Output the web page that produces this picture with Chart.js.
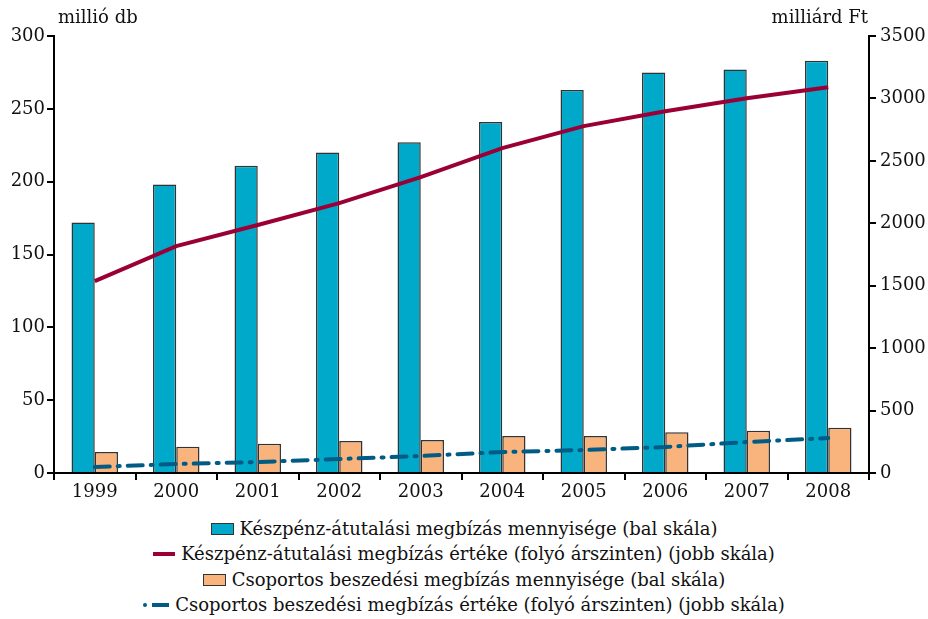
<!DOCTYPE html>
<html>
<head>
<meta charset="utf-8">
<script src="https://cdn.jsdelivr.net/npm/chart.js@4.4.0/dist/chart.umd.min.js"></script>
<style>
  html, body { margin: 0; padding: 0; background: #fff; }
  body { width: 928px; height: 619px; position: relative; overflow: hidden; font-family: 'DejaVu Serif', serif; }
  #wrap { position: absolute; left: 0; top: 0; width: 928px; height: 505px; }
  #legend { position: absolute; left: 0; top: 516px; width: 928px; text-align: center; font-size: 18px; color: #111; line-height: 25.3px; }
  .row { white-space: nowrap; }
  .sw { display: inline-block; vertical-align: middle; margin-right: 6px; position: relative; top: -1px; }
  .box { width: 21px; height: 10px; border: 1.5px solid #333; }
  .ln { width: 22px; height: 4px; }
</style>
</head>
<body>
<div id="wrap"><canvas id="chart" width="928" height="505"></canvas></div>
<div id="legend"></div>
<script>
const years = ['1999', '2000', '2001', '2002', '2003', '2004', '2005', '2006', '2007', '2008'];
const kesz_db = [172, 198, 211, 220, 227, 241, 263, 275, 277, 283];
const kesz_ft = [1537, 1817, 1986, 2162, 2370, 2602, 2778, 2898, 3002, 3090];
const csop_db = [14.4, 18, 20, 22, 22.6, 25.4, 25.4, 28, 29, 31];
const csop_ft = [48, 72, 88, 112, 136, 168, 184, 208, 248, 280];

const labels = [
    'Készpénz-átutalási megbízás mennyisége (bal skála)',
    'Készpénz-átutalási megbízás értéke (folyó árszinten) (jobb skála)',
    'Csoportos beszedési megbízás mennyisége (bal skála)',
    'Csoportos beszedési megbízás értéke (folyó árszinten) (jobb skála)'
];

const fam = "'DejaVu Serif', serif";
const font = { family: fam, size: 18 };

// axis unit captions above the two y axes
const unitTitles = {
    id: 'unitTitles',
    afterDraw(chart) {
        const c = chart.ctx;
        const a = chart.chartArea;
        c.save();
        c.fillStyle = '#111';
        c.font = '18px ' + fam;
        c.textBaseline = 'alphabetic';
        c.textAlign = 'left';
        c.fillText('millió db', a.left + 4, 23);
        c.textAlign = 'right';
        c.fillText('milliárd Ft', a.right - 1, 23);
        c.restore();
    }
};

const axisGrid = { display: true, drawOnChartArea: false, drawTicks: true, tickLength: 7, color: '#000', lineWidth: 2 };
const plain = v => String(v);

new Chart(document.getElementById('chart'), {
    data: {
        labels: years,
        datasets: [
            {
                type: 'line', label: labels[1], data: kesz_ft, yAxisID: 'y2',
                borderColor: '#9A0036', borderWidth: 4, pointRadius: 0, tension: 0, order: 0
            },
            {
                type: 'line', label: labels[3], data: csop_ft, yAxisID: 'y2',
                borderColor: '#005B85', borderWidth: 4, pointRadius: 0, tension: 0,
                borderDash: [15, 8, 2, 8], borderCapStyle: 'round', order: 1
            },
            {
                type: 'bar', label: labels[0], data: kesz_db, yAxisID: 'y',
                backgroundColor: '#00A9CA', borderColor: '#333', borderWidth: 1.5,
                barPercentage: 1, categoryPercentage: 0.57, order: 2
            },
            {
                type: 'bar', label: labels[2], data: csop_db, yAxisID: 'y',
                backgroundColor: '#F9B47E', borderColor: '#333', borderWidth: 1.5,
                barPercentage: 1, categoryPercentage: 0.57, order: 3
            }
        ]
    },
    options: {
        responsive: false,
        animation: false,
        layout: { padding: { top: 36, left: 0, right: 0, bottom: 0 } },
        plugins: { legend: { display: false }, tooltip: { enabled: false } },
        scales: {
            x: {
                grid: { ...axisGrid, offset: true },
                border: { color: '#000', width: 2 },
                ticks: { color: '#111', font: font, padding: 2 },
                afterFit(s) { s.height = 32; }
            },
            y: {
                position: 'left', min: 0, max: 300,
                grid: axisGrid,
                border: { color: '#000', width: 2 },
                ticks: { stepSize: 50, color: '#111', font: font, padding: 2, callback: plain },
                afterFit(s) { s.width = 54; }
            },
            y2: {
                position: 'right', min: 0, max: 3500,
                grid: axisGrid,
                border: { color: '#000', width: 2 },
                ticks: { stepSize: 500, color: '#111', font: font, padding: 4, callback: plain },
                afterFit(s) { s.width = 59; }
            }
        }
    },
    plugins: [unitTitles]
});

// legend: one entry per row, centred
const swatches = [
    '<span class="sw box" style="background:#00A9CA"></span>',
    '<span class="sw ln" style="background:#9A0036"></span>',
    '<span class="sw box" style="background:#F9B47E"></span>',
    '<span class="sw" style="width:26px;height:4px"><span style="position:absolute;left:0;top:0;width:4px;height:4px;border-radius:2px;background:#005B85"></span><span style="position:absolute;left:9px;top:0;width:17px;height:4px;background:#005B85"></span></span>'
];
document.getElementById('legend').innerHTML = labels
    .map((l, i) => '<div class="row">' + swatches[i] + l + '</div>')
    .join('');
</script>
</body>
</html>
